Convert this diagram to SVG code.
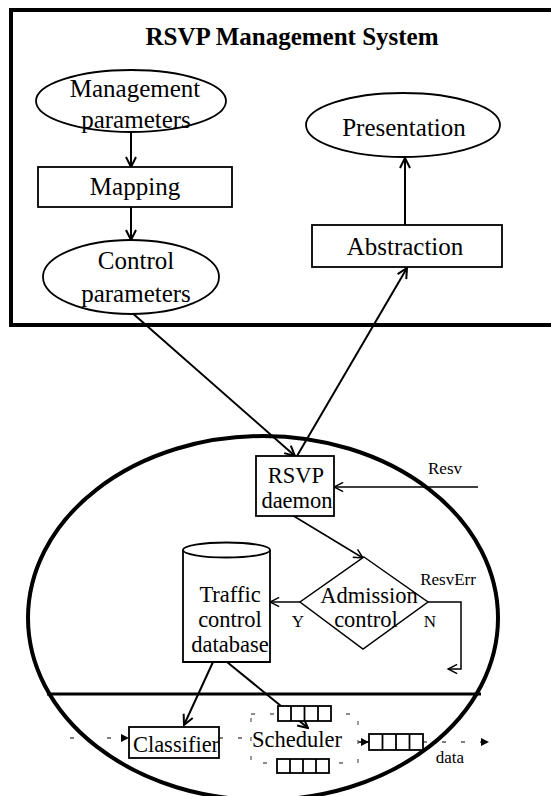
<svg xmlns="http://www.w3.org/2000/svg" width="551" height="796" viewBox="0 0 551 796">
<style>
.t{font-family:"Liberation Serif","Times New Roman",serif;fill:#000;text-anchor:middle}
.big{font-size:25px}
.mid{font-size:22.5px}
.sm{font-size:17px}
.title{font-size:25px;font-weight:bold}
.shape{fill:#fff;stroke:#000;stroke-width:1.8}
.conn{fill:none;stroke:#000;stroke-width:2;marker-end:url(#open)}
.dash{fill:none;stroke:#555;stroke-width:1.3;stroke-dasharray:4 15}
.cell{fill:#fff;stroke:#000;stroke-width:1.8}
</style>
<defs>
<marker id="open" markerUnits="userSpaceOnUse" viewBox="0 0 12 12" refX="11" refY="6" markerWidth="12" markerHeight="12" orient="auto">
<path d="M1,1 L11,6 L1,11" fill="none" stroke="#000" stroke-width="2"/>
</marker>
<marker id="openS" markerUnits="userSpaceOnUse" viewBox="0 0 12 12" refX="11" refY="6" markerWidth="11" markerHeight="11" orient="auto">
<path d="M1,1 L11,6 L1,11" fill="none" stroke="#000" stroke-width="1.6"/>
</marker>
<marker id="fill" markerUnits="userSpaceOnUse" viewBox="0 0 8 8" refX="8" refY="4" markerWidth="8" markerHeight="8" orient="auto">
<path d="M0,0 L8,4 L0,8 z" fill="#000"/>
</marker>
</defs>

<g id="management-system">
<rect x="11" y="10" width="560" height="315" fill="none" stroke="#000" stroke-width="4"/>
<text class="t title" x="292" y="45">RSVP Management System</text>
</g>

<g id="big-ellipse">
<ellipse cx="263" cy="618" rx="235" ry="182" fill="none" stroke="#000" stroke-width="4"/>
<line x1="47" y1="694" x2="481" y2="694" stroke="#000" stroke-width="3"/>
</g>

<g id="connectors">
<line class="conn" x1="131" y1="132" x2="131" y2="167"/>
<line class="conn" x1="131" y1="207" x2="131" y2="240"/>
<line class="conn" x1="405" y1="225" x2="405" y2="158"/>
<line class="conn" x1="130" y1="311" x2="295" y2="456"/>
<line class="conn" x1="297" y1="456" x2="407" y2="268"/>
<line class="conn" style="stroke-width:1.5;marker-end:url(#openS)" x1="478" y1="487" x2="334" y2="487"/>
<line class="conn" style="stroke-width:1.5;marker-end:url(#openS)" x1="292" y1="515" x2="363" y2="558"/>
<line class="conn" style="stroke-width:1.5;marker-end:url(#openS)" x1="300" y1="602" x2="270" y2="602"/>
<polyline class="conn" style="stroke-width:1.5;marker-end:url(#openS)" points="428,602 461,602 461,669 448,669"/>
<line class="conn" x1="213" y1="662" x2="184" y2="725"/>
<line class="conn" x1="227" y1="662" x2="308" y2="728"/>
<line class="dash" x1="70" y1="738" x2="129" y2="738" style="stroke-dasharray:4 33;marker-end:url(#fill)"/>
<line class="dash" x1="219" y1="738" x2="251" y2="738"/>
<line stroke="#000" stroke-width="1.5" x1="358" y1="742" x2="369" y2="742" style="marker-end:url(#fill)"/>
<line class="dash" x1="423" y1="742" x2="489" y2="742" style="marker-end:url(#fill)"/>
</g>

<g id="management-parameters">
<ellipse class="shape" cx="131" cy="101" rx="95" ry="31"/>
<text class="t big" x="135" y="97">Management</text>
<text class="t big" x="136" y="128">parameters</text>
</g>

<g id="mapping">
<rect class="shape" x="38" y="167" width="194" height="40"/>
<text class="t big" x="135" y="195">Mapping</text>
</g>

<g id="control-parameters">
<ellipse class="shape" cx="131" cy="277" rx="88" ry="37"/>
<text class="t big" x="136" y="269">Control</text>
<text class="t big" x="136" y="302">parameters</text>
</g>

<g id="presentation">
<ellipse class="shape" cx="403" cy="125" rx="97" ry="32"/>
<text class="t big" x="404" y="136">Presentation</text>
</g>

<g id="abstraction">
<rect class="shape" x="312" y="225" width="190" height="42"/>
<text class="t big" x="405" y="255">Abstraction</text>
</g>

<g id="rsvp-daemon">
<rect class="shape" x="256" y="456" width="78" height="60"/>
<text class="t mid" x="296" y="483">RSVP</text>
<text class="t mid" x="297" y="508">daemon</text>
</g>

<g id="resv-label">
<text class="t sm" x="445" y="474">Resv</text>
</g>

<g id="traffic-control-database">
<path class="shape" d="M183,550 L183,662 L270,662 L270,550"/>
<ellipse class="shape" cx="226.5" cy="550" rx="43.5" ry="7.5"/>
<text class="t mid" x="230" y="602">Traffic</text>
<text class="t mid" x="230" y="627">control</text>
<text class="t mid" x="230" y="652">database</text>
</g>

<g id="admission-control">
<polygon class="shape" style="stroke-width:1.5" points="364,557 428,602 363,649 300,602"/>
<text class="t mid" x="369" y="603">Admission</text>
<text class="t mid" x="366" y="627">control</text>
<text class="t sm" x="298" y="627">Y</text>
<text class="t sm" x="430" y="627">N</text>
<text class="t sm" x="448" y="585">ResvErr</text>
</g>

<g id="classifier">
<rect class="shape" x="129" y="727" width="90" height="31"/>
<text class="t mid" x="176" y="752">Classifier</text>
</g>

<g id="scheduler">
<rect x="251" y="714" width="107" height="49" fill="none" stroke="#666" stroke-width="1.3" stroke-dasharray="4 15"/>
<text class="t mid" x="297" y="747">Scheduler</text>
<g>
<rect class="cell" x="278" y="706" width="53" height="15"/>
<line stroke="#000" stroke-width="1.8" x1="291" y1="706" x2="291" y2="721"/>
<line stroke="#000" stroke-width="1.8" x1="304.5" y1="706" x2="304.5" y2="721"/>
<line stroke="#000" stroke-width="1.8" x1="318" y1="706" x2="318" y2="721"/>
</g>
<g>
<rect class="cell" x="277" y="759" width="52" height="14"/>
<line stroke="#000" stroke-width="1.8" x1="290" y1="759" x2="290" y2="773"/>
<line stroke="#000" stroke-width="1.8" x1="303" y1="759" x2="303" y2="773"/>
<line stroke="#000" stroke-width="1.8" x1="316" y1="759" x2="316" y2="773"/>
</g>
</g>

<g id="output-queue">
<rect class="cell" x="369" y="734" width="54" height="16"/>
<line stroke="#000" stroke-width="1.8" x1="382.5" y1="734" x2="382.5" y2="750"/>
<line stroke="#000" stroke-width="1.8" x1="396" y1="734" x2="396" y2="750"/>
<line stroke="#000" stroke-width="1.8" x1="409.5" y1="734" x2="409.5" y2="750"/>
<text class="t sm" x="450" y="763">data</text>
</g>
</svg>
